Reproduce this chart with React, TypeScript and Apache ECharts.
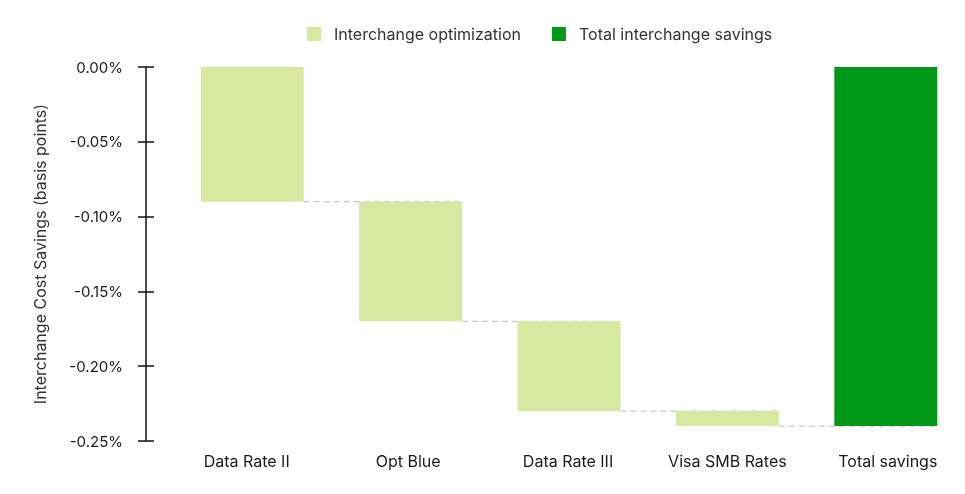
import React, { useEffect, useRef } from "react";
import * as echarts from "echarts";

const categories = ["Data Rate II", "Opt Blue", "Data Rate III", "Visa SMB Rates", "Total savings"];
const baseValues = [0, -0.09, -0.17, -0.23, 0];
const stepValues: (number | string)[] = [-0.09, -0.08, -0.06, -0.01, "-"];
const totalValues: (number | string)[] = ["-", "-", "-", "-", -0.24];
const connectorLevels = [-0.09, -0.17, -0.23, -0.24];
const yTicks = { min: -0.25, max: 0, interval: 0.05 };

// small horizontal label nudges (style only)
const labelPads = [
  [0, 11, 0, 0],
  [0, 5, 0, 0],
  [0, 2, 0, 0],
  [0, 0, 0, 0],
  [0, 0, 0, 4],
];

const LIGHT = "#d7e9a1";
const DARK = "#009917";
const FONT = "Inter";

export default function App() {
  const ref = useRef<HTMLDivElement>(null);
  useEffect(() => {
    if (!ref.current) return;
    const chart = echarts.init(ref.current, null, { renderer: "svg" });
    const barRatio = 0.65;
    chart.setOption({
      animation: false,
      textStyle: { fontFamily: FONT },
      legend: {
        top: 21,
        left: 302,
        itemWidth: 14,
        itemHeight: 14,
        itemGap: 31,
        textStyle: { fontSize: 16, color: "#333", fontFamily: FONT, padding: [0, 0, 0, 8] },
        data: [
          { name: "Interchange optimization", icon: "rect" },
          { name: "Total interchange savings", icon: "rect" },
        ],
      },
      grid: { left: 173, right: 0, top: 67, bottom: 53, containLabel: false },
      xAxis: {
        type: "category",
        data: categories.map((c, i) => ({ value: c, textStyle: { padding: labelPads[i] } })),
        axisLine: { show: false },
        axisTick: { show: false },
        axisLabel: { fontSize: 16, color: "#1a1a1a", fontFamily: FONT, margin: 12 },
      },
      yAxis: [
        {
          type: "value",
          min: yTicks.min,
          max: yTicks.max,
          interval: yTicks.interval,
          offset: 27,
          name: "Interchange Cost Savings (basis points)",
          nameLocation: "middle",
          nameGap: 98,
          nameTextStyle: { fontSize: 16, color: "#333", fontFamily: FONT },
          axisLine: { show: true, lineStyle: { color: "#111", width: 1.5 } },
          axisTick: { show: true, length: 8, lineStyle: { color: "#111", width: 1.5 } },
          axisLabel: {
            fontSize: 15,
            color: "#1a1a1a",
            fontFamily: FONT,
            margin: 23,
            formatter: (v: number) => v.toFixed(2) + "%",
          },
          splitLine: { show: false },
        },
        {
          type: "value",
          position: "left",
          min: yTicks.min,
          max: yTicks.max,
          interval: yTicks.interval,
          offset: 27,
          axisLine: { show: false },
          axisTick: { show: true, inside: true, length: 8, lineStyle: { color: "#111", width: 1.5 } },
          axisLabel: { show: false },
          splitLine: { show: false },
        },
      ],
      series: [
        {
          type: "custom",
          name: "connectors",
          z: 1,
          silent: true,
          data: connectorLevels.map((v, i) => [i, v]),
          renderItem: (params: any, api: any) => {
            const i = api.value(0);
            const v = api.value(1);
            const p0 = api.coord([i, v]);
            const p1 = api.coord([i + 1, v]);
            const bw = api.size([1, 0])[0] * barRatio;
            return {
              type: "line",
              shape: { x1: p0[0] + bw / 2, y1: p0[1], x2: p1[0] + bw / 2, y2: p1[1] },
              style: { stroke: "#c9c9d2", lineWidth: 1.2, lineDash: [6, 4] },
            };
          },
        },
        {
          type: "bar",
          name: "base",
          stack: "w",
          barWidth: "65%",
          z: 2,
          itemStyle: { color: "transparent" },
          silent: true,
          data: baseValues,
        },
        {
          type: "bar",
          name: "Interchange optimization",
          stack: "w",
          barWidth: "65%",
          z: 2,
          itemStyle: { color: LIGHT },
          data: stepValues,
        },
        {
          type: "bar",
          name: "Total interchange savings",
          stack: "w",
          barWidth: "65%",
          z: 2,
          itemStyle: { color: DARK },
          data: totalValues,
        },
      ],
    });
    return () => chart.dispose();
  }, []);
  return (
    <div
      ref={ref}
      style={{ position: "fixed", left: 0, top: 0, width: 965, height: 494 }}
    />
  );
}
